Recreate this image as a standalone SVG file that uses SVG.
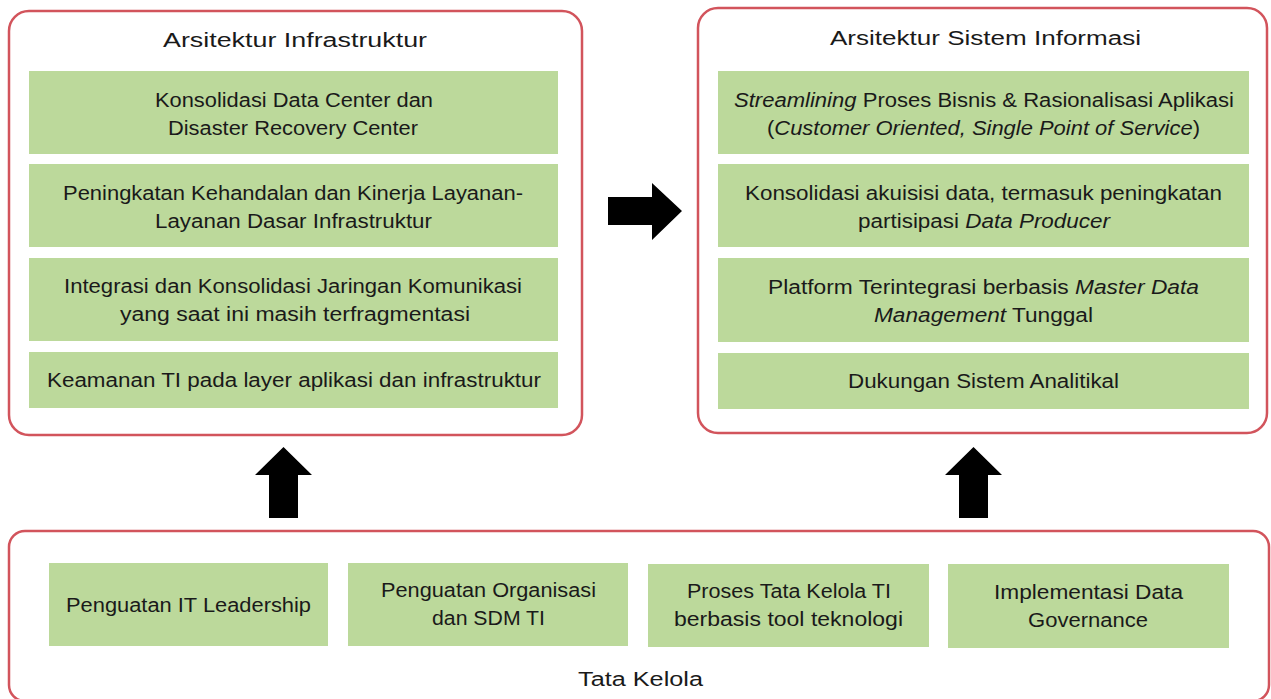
<svg xmlns="http://www.w3.org/2000/svg" width="1271" height="699" viewBox="0 0 1271 699">
<style>
.panel{fill:#fff;stroke:#d2545c;stroke-width:2.5}
.box{fill:#bcd99b}
text{font-family:"Liberation Sans","DejaVu Sans",sans-serif;fill:#1a1a1a;text-anchor:middle;font-size:20px}
.i{font-style:italic}
.arrow{fill:#000}
</style>
<rect width="1271" height="699" fill="#fff"/>
<g id="panel-infra">
<rect class="panel" x="9" y="11" width="573" height="424" rx="20"/>
<text x="295" y="47" textLength="264" lengthAdjust="spacingAndGlyphs">Arsitektur Infrastruktur</text>
</g>
<g id="infra-1"><rect class="box" x="29" y="71" width="529" height="83"/>
<text x="294" y="107" textLength="278" lengthAdjust="spacingAndGlyphs">Konsolidasi Data Center dan</text>
<text x="293" y="135" textLength="250" lengthAdjust="spacingAndGlyphs">Disaster Recovery Center</text></g>
<g id="infra-2"><rect class="box" x="29" y="164" width="529" height="83"/>
<text x="293" y="200" textLength="460" lengthAdjust="spacingAndGlyphs">Peningkatan Kehandalan dan Kinerja Layanan-</text>
<text x="293.5" y="228" textLength="277" lengthAdjust="spacingAndGlyphs">Layanan Dasar Infrastruktur</text></g>
<g id="infra-3"><rect class="box" x="29" y="258" width="529" height="83"/>
<text x="293" y="293" textLength="458" lengthAdjust="spacingAndGlyphs">Integrasi dan Konsolidasi Jaringan Komunikasi</text>
<text x="295" y="321" textLength="350" lengthAdjust="spacingAndGlyphs">yang saat ini masih terfragmentasi</text></g>
<g id="infra-4"><rect class="box" x="29" y="352" width="529" height="56"/>
<text x="294" y="387" textLength="494" lengthAdjust="spacingAndGlyphs">Keamanan TI pada layer aplikasi dan infrastruktur</text></g>

<g id="panel-si">
<rect class="panel" x="698" y="8" width="569" height="425" rx="20"/>
<text x="985.5" y="45" textLength="311" lengthAdjust="spacingAndGlyphs">Arsitektur Sistem Informasi</text>
</g>
<g id="si-1"><rect class="box" x="718" y="71" width="531" height="83"/>
<text x="984" y="107" textLength="500" lengthAdjust="spacingAndGlyphs"><tspan class="i">Streamlining</tspan> Proses Bisnis &amp; Rasionalisasi Aplikasi</text>
<text x="983.5" y="135" textLength="433" lengthAdjust="spacingAndGlyphs">(<tspan class="i">Customer Oriented, Single Point of Service</tspan>)</text></g>
<g id="si-2"><rect class="box" x="718" y="164" width="531" height="83"/>
<text x="983.5" y="200" textLength="477" lengthAdjust="spacingAndGlyphs">Konsolidasi akuisisi data, termasuk peningkatan</text>
<text x="984" y="228" textLength="252" lengthAdjust="spacingAndGlyphs">partisipasi <tspan class="i">Data Producer</tspan></text></g>
<g id="si-3"><rect class="box" x="718" y="258" width="531" height="84"/>
<text x="983.5" y="294" textLength="431" lengthAdjust="spacingAndGlyphs">Platform Terintegrasi berbasis <tspan class="i">Master Data</tspan></text>
<text x="983.5" y="322" textLength="219" lengthAdjust="spacingAndGlyphs"><tspan class="i">Management</tspan> Tunggal</text></g>
<g id="si-4"><rect class="box" x="718" y="353" width="531" height="56"/>
<text x="983.5" y="388" textLength="271" lengthAdjust="spacingAndGlyphs">Dukungan Sistem Analitikal</text></g>

<g id="panel-tata">
<rect class="panel" x="9" y="531" width="1260" height="170" rx="16"/>
<text x="640.5" y="686" textLength="125" lengthAdjust="spacingAndGlyphs">Tata Kelola</text>
</g>
<g id="tk-1"><rect class="box" x="49" y="563" width="279" height="83"/>
<text x="188.5" y="612" textLength="245" lengthAdjust="spacingAndGlyphs">Penguatan IT Leadership</text></g>
<g id="tk-2"><rect class="box" x="348" y="563" width="280" height="83"/>
<text x="488.5" y="597" textLength="215" lengthAdjust="spacingAndGlyphs">Penguatan Organisasi</text>
<text x="488.5" y="625" textLength="113" lengthAdjust="spacingAndGlyphs">dan SDM TI</text></g>
<g id="tk-3"><rect class="box" x="648" y="564" width="281" height="83"/>
<text x="789" y="598" textLength="204" lengthAdjust="spacingAndGlyphs">Proses Tata Kelola TI</text>
<text x="788.5" y="626" textLength="229" lengthAdjust="spacingAndGlyphs">berbasis tool teknologi</text></g>
<g id="tk-4"><rect class="box" x="948" y="564" width="281" height="84"/>
<text x="1088.5" y="599" textLength="189" lengthAdjust="spacingAndGlyphs">Implementasi Data</text>
<text x="1088" y="627" textLength="120" lengthAdjust="spacingAndGlyphs">Governance</text></g>

<g id="connectors">
<polygon class="arrow" points="608,197 652,197 652,183 682,211 652,240 652,225 608,225"/>
<polygon class="arrow" points="269,518 269,475 255,475 283.5,447 312,475 298,475 298,518"/>
<polygon class="arrow" points="959,518 959,475 945,475 973.5,447 1002,475 988,475 988,518"/>
</g>
</svg>
